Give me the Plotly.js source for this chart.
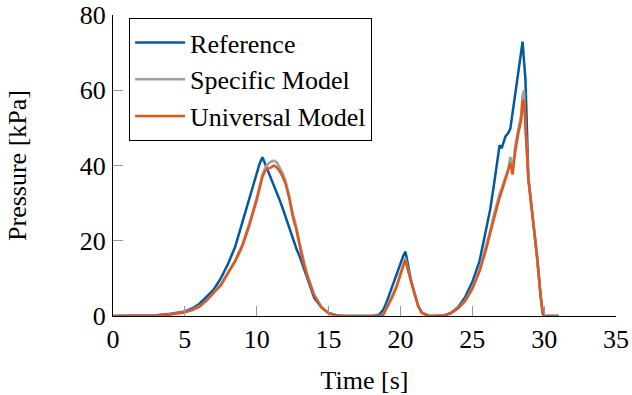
<!DOCTYPE html>
<html>
<head>
<meta charset="utf-8">
<script src="https://cdn.plot.ly/plotly-3.0.1.min.js"></script>
<style>html,body{margin:0;padding:0;background:#fff;}#chart{width:632px;height:395px;}</style>
</head>
<body>
<div id="chart"></div>
<script>
const seriesNames = ["Reference", "Specific Model", "Universal Model"];
const time = [0, 1, 2, 3, 4, 4.5, 5, 5.5, 6, 6.5, 7, 7.5, 8, 8.5, 9, 9.5, 10, 10.2, 10.4, 10.6, 10.8, 11, 11.2, 11.4, 11.6, 11.8, 12, 12.25, 12.5, 12.75, 13, 13.25, 13.5, 13.75, 14, 14.5, 15, 15.5, 16, 17, 18, 18.5, 18.8, 19, 19.25, 19.5, 19.75, 20, 20.2, 20.35, 20.5, 20.75, 21, 21.25, 21.5, 22, 22.5, 23, 23.5, 24, 24.5, 25, 25.5, 26, 26.25, 26.5, 26.75, 26.9, 27.05, 27.3, 27.5, 27.65, 27.8, 28, 28.2, 28.4, 28.5, 28.6, 28.7, 28.8, 28.9, 29, 29.25, 29.5, 29.75, 29.9, 30, 30.5, 31];
const reference = [0, 0, 0.05, 0.2, 0.6, 0.9, 1.2, 2.0, 3.2, 5.1, 7.0, 10.0, 13.8, 18.4, 25.0, 31.4, 37.5, 40.5, 42.2, 40.3, 38.5, 36.7, 35.0, 33.0, 30.8, 28.7, 26.5, 23.5, 20.5, 18.0, 15.7, 13.0, 10.0, 7.2, 4.8, 2.3, 0.8, 0.2, 0, 0, 0, 0.3, 1.6, 3.3, 6.0, 8.7, 11.2, 13.8, 16.0, 17.1, 13.8, 9.2, 5.8, 2.5, 0.8, 0, 0, 0.1, 0.8, 2.3, 5.0, 9.0, 14.5, 23.5, 28.4, 34.7, 41.0, 45.4, 44.6, 47.7, 48.6, 49.8, 53.9, 59.4, 64.9, 70.4, 72.9, 67.7, 62.9, 50.0, 36.5, 33.3, 25.0, 16.0, 5.7, 0.8, 0, 0, 0];
const specificModel = [0, 0, 0, 0.1, 0.5, 0.8, 1.1, 1.7, 2.6, 4.0, 6.3, 8.4, 11.6, 14.8, 19.0, 24.8, 31.5, 34.8, 37.6, 39.5, 40.5, 41.0, 41.3, 40.8, 39.5, 38.0, 36.0, 32.2, 27.5, 23.8, 19.2, 14.8, 11.2, 8.2, 5.6, 2.4, 0.8, 0.2, 0, 0, 0, 0, 0.4, 1.8, 3.9, 6.0, 8.3, 11.4, 14.0, 15.4, 12.8, 9.0, 5.7, 2.6, 0.8, 0, 0, 0.1, 0.7, 2.1, 4.1, 7.5, 12.2, 18.8, 22.8, 26.8, 30.6, 32.5, 34.0, 36.8, 39.0, 42.3, 39.0, 45.5, 50.0, 53.5, 58.8, 60.0, 51.0, 42.5, 37.0, 33.5, 25.3, 16.2, 5.6, 0.6, 0, 0, 0];
const universalModel = [0, 0, 0, 0.1, 0.4, 0.7, 1.0, 1.6, 2.4, 4.2, 6.1, 8.1, 11.3, 14.5, 18.5, 24.2, 30.8, 34.0, 37.0, 38.6, 39.2, 39.5, 40.0, 39.5, 38.5, 37.0, 35.2, 31.5, 26.5, 23.0, 18.5, 14.0, 11.0, 8.0, 5.5, 2.3, 0.7, 0.2, 0, 0, 0, 0, 0.3, 1.6, 3.6, 5.6, 7.9, 11.0, 13.3, 14.9, 12.5, 8.8, 5.6, 2.5, 0.8, 0, 0, 0.1, 0.7, 2.0, 3.9, 7.2, 11.8, 18.2, 22.1, 26.0, 29.7, 31.5, 33.2, 36.5, 38.5, 40.6, 37.6, 44.0, 48.5, 52.0, 57.0, 57.5, 50.0, 42.0, 36.5, 33.0, 25.0, 16.0, 5.5, 0.5, 0, 0, 0];
const seriesValues = [reference, specificModel, universalModel];
const seriesColors = ["#005a9e", "#a0a0a0", "#e0561f"];
const xTicks = [0, 5, 10, 15, 20, 25, 30, 35];
const yTicks = [0, 20, 40, 60, 80];

const FONT = '"Liberation Serif", "Times New Roman", Times, serif';
const traces = seriesNames.map((n, i) => ({
  type: "scatter", mode: "lines", name: n,
  x: time, y: seriesValues[i],
  line: {color: seriesColors[i], width: 2.5}
}));

const axisCommon = {
  showgrid: false, zeroline: false, showline: true, linecolor: "#000", linewidth: 1,
  ticks: "inside", ticklen: 10, tickcolor: "#999", tickwidth: 1, mirror: false,
  tickfont: {family: FONT, size: 26, color: "#000"}
};

const layout = {
  width: 632, height: 395,
  margin: {l: 113, r: 16, t: 15, b: 79},
  paper_bgcolor: "#fff", plot_bgcolor: "#fff",
  font: {family: FONT, size: 26, color: "#000"},
  showlegend: true,
  legend: {
    x: 0.032, y: 0.99, xanchor: "left", yanchor: "top",
    bgcolor: "#fff", bordercolor: "#000", borderwidth: 1,
    font: {family: FONT, size: 26, color: "#000"},
    itemwidth: 50, tracegroupgap: 0, entrywidth: 262, entrywidthmode: "pixels"
  },
  xaxis: Object.assign({}, axisCommon, {
    range: [0, 35], tickvals: xTicks, ticktext: xTicks.map(String),
    ticklabelstandoff: 0,
    title: {text: "Time [s]", font: {family: FONT, size: 26}, standoff: 20}
  }),
  yaxis: Object.assign({}, axisCommon, {
    range: [0, 80], tickvals: yTicks, ticktext: yTicks.map(String),
    ticklabelstandoff: 1,
    title: {text: "Pressure [kPa]", font: {family: FONT, size: 26}, standoff: 45}
  })
};

Plotly.newPlot("chart", traces, layout, {staticPlot: true, displayModeBar: false});
</script>
</body>
</html>
